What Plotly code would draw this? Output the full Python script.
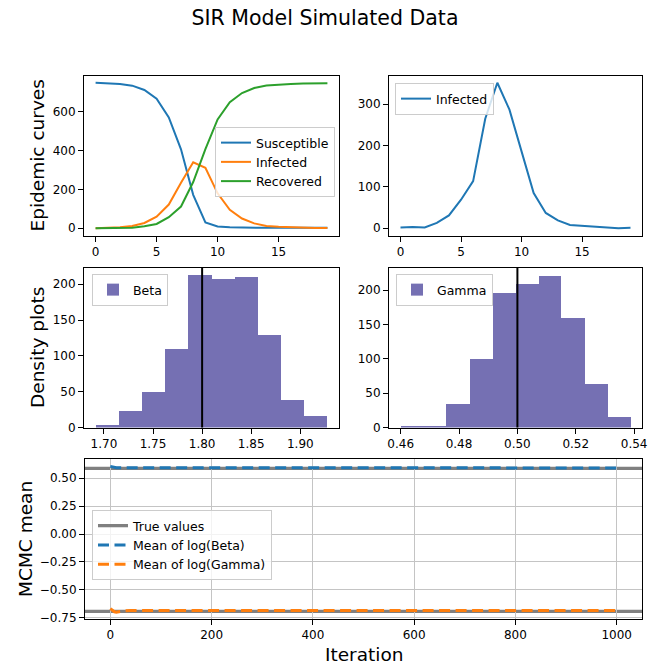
import numpy as np
import plotly.graph_objects as go

# ---- SIR model curves (deterministic solution) ----
days = list(range(20))
susceptible = [750, 748, 744, 735, 713, 668, 571, 407, 172, 30, 9, 5, 3, 2, 2, 2, 2, 2, 2, 2]
infected_model = [0, 2, 5, 12, 27, 60, 122, 234, 340, 312, 180, 95, 50, 25, 12, 7, 4, 2, 1, 1]
recovered = [0, 0, 1, 3, 10, 22, 57, 112, 238, 408, 561, 650, 697, 723, 736, 741, 744, 746, 747, 748]

# ---- observed (noisy) infected counts ----
infected_obs = [2, 3, 2, 13, 31, 69, 114, 265, 352, 287, 186, 85, 37, 19, 8, 6, 5, 2, 0, 1]

# ---- posterior histograms ----
beta_edges = [1.6915, 1.7151, 1.7387, 1.7623, 1.7860, 1.8096, 1.8332, 1.8568, 1.8804, 1.9040, 1.9276]
beta_counts = [3, 23, 49, 110, 213, 207, 210, 129, 38, 16]
gamma_edges = [0.4600, 0.4679, 0.4757, 0.4836, 0.4915, 0.4994, 0.5073, 0.5151, 0.5230, 0.5309, 0.5388]
gamma_counts = [1, 2, 34, 100, 196, 209, 221, 159, 64, 15]
true_beta = 1.8
true_gamma = 0.5

# ---- running MCMC means ----
mcmc_iter = [0, 2, 5, 8, 12, 16, 20, 25, 30, 40, 60, 80, 100, 150, 200, 300, 400, 500, 600, 700, 800, 900, 999]
mean_log_beta = [0.606, 0.603, 0.598, 0.596, 0.594, 0.593, 0.593, 0.593, 0.593, 0.593, 0.592, 0.592, 0.592,
                 0.592, 0.592, 0.592, 0.592, 0.592, 0.592, 0.592, 0.592, 0.592, 0.592]
mean_log_gamma = [-0.668, -0.676, -0.688, -0.696, -0.700, -0.699, -0.694, -0.689, -0.686, -0.685, -0.684, -0.684,
                  -0.684, -0.684, -0.684, -0.684, -0.684, -0.684, -0.684, -0.684, -0.684, -0.684, -0.684]

BLUE, ORANGE, GREEN = "#1f77b4", "#ff7f0e", "#2ca02c"
PURPLE = "#7570b3"
FONT = "DejaVu Sans"
W, H = 650, 667


def px_x(p):
    return p / W


def px_y(p):
    return 1 - p / H


def centers(edges):
    e = np.asarray(edges)
    return (e[:-1] + e[1:]) / 2, np.diff(e)


fig = go.Figure()

# top-left: epidemic curves
for name, vals, col in [("Susceptible", susceptible, BLUE),
                        ("Infected", infected_model, ORANGE),
                        ("Recovered", recovered, GREEN)]:
    fig.add_trace(go.Scatter(x=days, y=vals, mode="lines", name=name,
                             line=dict(color=col, width=2), xaxis="x", yaxis="y",
                             legend="legend"))

# top-right: observed infected
fig.add_trace(go.Scatter(x=days, y=infected_obs, mode="lines", name="Infected",
                         line=dict(color=BLUE, width=2), xaxis="x2", yaxis="y2",
                         legend="legend2"))

# middle: histograms
bc, bw = centers(beta_edges)
fig.add_trace(go.Bar(x=bc, y=beta_counts, width=bw, name="Beta", marker=dict(color=PURPLE, line=dict(width=0)),
                     xaxis="x3", yaxis="y3", legend="legend3", showlegend=True))
gc, gw = centers(gamma_edges)
fig.add_trace(go.Bar(x=gc, y=gamma_counts, width=gw, name="Gamma", marker=dict(color=PURPLE, line=dict(width=0)),
                     xaxis="x4", yaxis="y4", legend="legend4", showlegend=True))

# bottom: running means
fig.add_trace(go.Scatter(x=mcmc_iter, y=mean_log_beta, mode="lines", name="Mean of log(Beta)",
                         line=dict(color=BLUE, width=3, dash="11px,5.5px"), xaxis="x5", yaxis="y5",
                         legend="legend5", legendrank=2))
fig.add_trace(go.Scatter(x=mcmc_iter, y=mean_log_gamma, mode="lines", name="Mean of log(Gamma)",
                         line=dict(color=ORANGE, width=3, dash="11px,5.5px"), xaxis="x5", yaxis="y5",
                         legend="legend5", legendrank=3))

# true-value markers
fig.add_shape(type="line", xref="x3", yref="y3 domain", x0=true_beta, x1=true_beta, y0=0, y1=1,
              line=dict(color="black", width=2))
fig.add_shape(type="line", xref="x4", yref="y4 domain", x0=true_gamma, x1=true_gamma, y0=0, y1=1,
              line=dict(color="black", width=2))
for i, v in enumerate([np.log(true_beta), np.log(true_gamma)]):
    fig.add_shape(type="line", xref="x5 domain", yref="y5", x0=0, x1=1, y0=v, y1=v,
                  line=dict(color="#808080", width=3.3), layer="below",
                  name="True values", showlegend=(i == 0), legend="legend5", legendrank=1)

axis_common = dict(showline=True, mirror=True, linecolor="black", linewidth=1,
                   ticks="outside", ticklen=5, tickwidth=1, tickcolor="black",
                   zeroline=False, showgrid=False, automargin=False,
                   tickfont=dict(family=FONT, size=12, color="black"))

row_top = [px_y(235.5), px_y(75.5)]
row_mid = [px_y(427.5), px_y(268)]
row_bot = [px_y(619), px_y(459.3)]
col_l = [px_x(84), px_x(339)]
col_r = [px_x(389), px_x(642)]
col_b = [px_x(85), px_x(642)]

fig.update_layout(
    xaxis=dict(domain=col_l, anchor="y", range=[-0.95, 19.95], tickvals=[0, 5, 10, 15], **axis_common),
    yaxis=dict(domain=row_top, anchor="x", range=[-37.5, 787.5], tickvals=[0, 200, 400, 600], **axis_common),
    xaxis2=dict(domain=col_r, anchor="y2", range=[-0.95, 19.95], tickvals=[0, 5, 10, 15], **axis_common),
    yaxis2=dict(domain=row_top, anchor="x2", range=[-17.6, 369.6], tickvals=[0, 100, 200, 300], **axis_common),
    xaxis3=dict(domain=col_l, anchor="y3", range=[1.6797, 1.9394], dtick=0.05, tick0=1.7, tickformat=".2f",
                **axis_common),
    yaxis3=dict(domain=row_mid, anchor="x3", range=[0, 222.6], dtick=50, **axis_common),
    xaxis4=dict(domain=col_r, anchor="y4", range=[0.4560, 0.5427], dtick=0.02, tick0=0.46, tickformat=".2f",
                **axis_common),
    yaxis4=dict(domain=row_mid, anchor="x4", range=[0, 232], dtick=50, **axis_common),
    xaxis5=dict(domain=col_b, anchor="y5", range=[-50, 1050], dtick=200, **{**axis_common, "showgrid": True},
                gridcolor="#c4c4c4", gridwidth=1),
    yaxis5=dict(domain=row_bot, anchor="x5", range=[-0.761, 0.669], dtick=0.25, tick0=0, tickformat=".2f",
                **{**axis_common, "showgrid": True}, gridcolor="#c4c4c4", gridwidth=1),
    bargap=0,
)

legend_style = dict(bgcolor="rgba(255,255,255,0.8)", bordercolor="#cccccc", borderwidth=1,
                    font=dict(family=FONT, size=12.5, color="black"), xanchor="left", yanchor="top",
                    xref="paper", yref="paper", itemwidth=30, tracegroupgap=0)
fig.update_layout(
    legend=dict(x=px_x(215), y=px_y(127), **legend_style),
    legend2=dict(x=px_x(395), y=px_y(83), **legend_style),
    legend3=dict(x=px_x(92), y=px_y(274), **legend_style),
    legend4=dict(x=px_x(396), y=px_y(274), **legend_style),
    legend5=dict(x=px_x(92), y=px_y(510), **legend_style),
)

label_font = dict(family=FONT, size=18.5, color="black")
annotations = [
    dict(text="Epidemic curves", x=px_x(37), y=px_y(155.5), textangle=-90),
    dict(text="Density plots", x=px_x(37), y=px_y(348), textangle=-90),
    dict(text="MCMC mean", x=px_x(25), y=px_y(539), textangle=-90),
    dict(text="Iteration", x=px_x(363.5), y=px_y(654), textangle=0),
]
for a in annotations:
    fig.add_annotation(xref="paper", yref="paper", xanchor="center", yanchor="middle",
                       showarrow=False, font=label_font, **a)

fig.update_layout(
    title=dict(text="SIR Model Simulated Data", x=0.5, xanchor="center", y=1 - 18 / H, yanchor="middle",
               yref="container", automargin=False, font=dict(family=FONT, size=20.5, color="black")),
    width=W, height=H, margin=dict(l=0, r=0, t=0, b=0, autoexpand=False),
    paper_bgcolor="white", plot_bgcolor="white",
    font=dict(family=FONT, color="black"),
)

fig.write_html("out.html")
